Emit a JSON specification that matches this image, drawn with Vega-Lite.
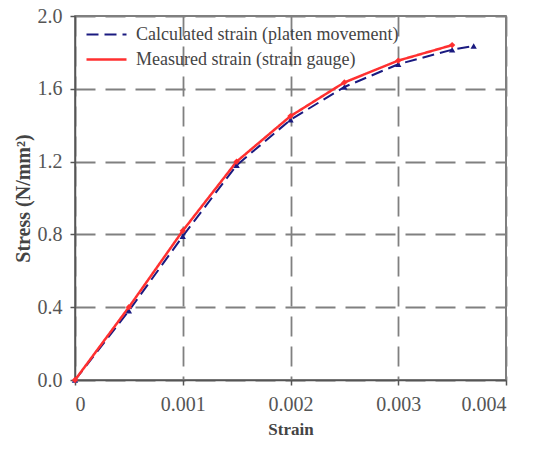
{
  "$schema": "https://vega.github.io/schema/vega-lite/v6.json",
  "autosize": {"type": "none"},
  "width": 431,
  "height": 364,
  "padding": {"left": 75, "top": 16, "right": 28, "bottom": 72},
  "background": "white",
  "config": {
    "font": "Liberation Serif",
    "view": {"stroke": "#555555", "strokeWidth": 1.5},
    "axis": {
      "labelFont": "Liberation Serif",
      "titleFont": "Liberation Serif",
      "labelFontSize": 20,
      "labelColor": "#555555",
      "titleFontWeight": "bold",
      "titleColor": "#444444",
      "domainColor": "#555555",
      "domainWidth": 1.5,
      "tickColor": "#555555",
      "tickWidth": 1.5,
      "tickSize": 5,
      "gridColor": "#808080",
      "gridDash": [20, 10],
      "gridWidth": 1.8,
      "gridOpacity": 1
    },
    "legend": {
      "labelFont": "Liberation Serif",
      "labelFontSize": 18,
      "labelColor": "#444444",
      "labelLimit": 400,
      "symbolType": "stroke",
      "symbolSize": 1600,
      "symbolStrokeWidth": 2.5,
      "rowPadding": 0,
      "clipHeight": 25,
      "labelOffset": 8
    }
  },
  "data": {
    "values": [
      {"series": "Calculated strain (platen movement)", "strain": 0, "stress": 0},
      {"series": "Calculated strain (platen movement)", "strain": 0.0005, "stress": 0.38},
      {"series": "Calculated strain (platen movement)", "strain": 0.001, "stress": 0.79},
      {"series": "Calculated strain (platen movement)", "strain": 0.0015, "stress": 1.18},
      {"series": "Calculated strain (platen movement)", "strain": 0.002, "stress": 1.43},
      {"series": "Calculated strain (platen movement)", "strain": 0.0025, "stress": 1.61},
      {"series": "Calculated strain (platen movement)", "strain": 0.003, "stress": 1.735},
      {"series": "Calculated strain (platen movement)", "strain": 0.0035, "stress": 1.815},
      {"series": "Calculated strain (platen movement)", "strain": 0.0037, "stress": 1.835},
      {"series": "Measured strain (strain gauge)", "strain": 0, "stress": 0},
      {"series": "Measured strain (strain gauge)", "strain": 0.0005, "stress": 0.40},
      {"series": "Measured strain (strain gauge)", "strain": 0.001, "stress": 0.82},
      {"series": "Measured strain (strain gauge)", "strain": 0.0015, "stress": 1.20},
      {"series": "Measured strain (strain gauge)", "strain": 0.002, "stress": 1.45},
      {"series": "Measured strain (strain gauge)", "strain": 0.0025, "stress": 1.635},
      {"series": "Measured strain (strain gauge)", "strain": 0.003, "stress": 1.755},
      {"series": "Measured strain (strain gauge)", "strain": 0.0035, "stress": 1.84}
    ]
  },
  "encoding": {
    "x": {
      "field": "strain", "type": "quantitative",
      "scale": {"domain": [0, 0.004], "nice": false},
      "axis": {"values": [0, 0.001, 0.002, 0.003, 0.004], "labelExpr": "datum.value == 0 ? '0' : format(datum.value, '.3f')", "title": "Strain", "titleFontSize": 17, "labelPadding": 9, "titlePadding": 7}
    },
    "y": {
      "field": "stress", "type": "quantitative",
      "scale": {"domain": [0, 2], "nice": false},
      "axis": {"values": [0, 0.4, 0.8, 1.2, 1.6, 2.0], "format": ".1f", "title": "Stress (N/mm²)", "titleFontSize": 20, "labelPadding": 8, "titlePadding": 4}
    }
  },
  "layer": [
    {
      "mark": {"type": "line", "interpolate": "linear"},
      "encoding": {
        "color": {
          "field": "series", "type": "nominal",
          "scale": {"domain": ["Calculated strain (platen movement)", "Measured strain (strain gauge)"], "range": ["#1a1a80", "#ff3030"]},
          "legend": {"title": null, "orient": "none", "legendX": 10, "legendY": 6}
        },
        "strokeDash": {
          "field": "series", "type": "nominal",
          "scale": {"domain": ["Calculated strain (platen movement)", "Measured strain (strain gauge)"], "range": [[12, 6], [1, 0]]},
          "legend": {"title": null, "orient": "none", "legendX": 10, "legendY": 6}
        },
        "strokeWidth": {
          "field": "series", "type": "nominal",
          "scale": {"domain": ["Calculated strain (platen movement)", "Measured strain (strain gauge)"], "range": [2, 2.5]},
          "legend": null
        }
      }
    },
    {
      "transform": [{"filter": "datum.series == 'Calculated strain (platen movement)'"}],
      "mark": {"type": "point", "filled": true, "opacity": 1, "shape": "triangle-up", "color": "#1a1a80", "size": 40}
    },
    {
      "transform": [{"filter": "datum.series == 'Measured strain (strain gauge)'"}],
      "mark": {"type": "point", "filled": true, "opacity": 1, "shape": "diamond", "color": "#ff3030", "size": 40}
    }
  ]
}
